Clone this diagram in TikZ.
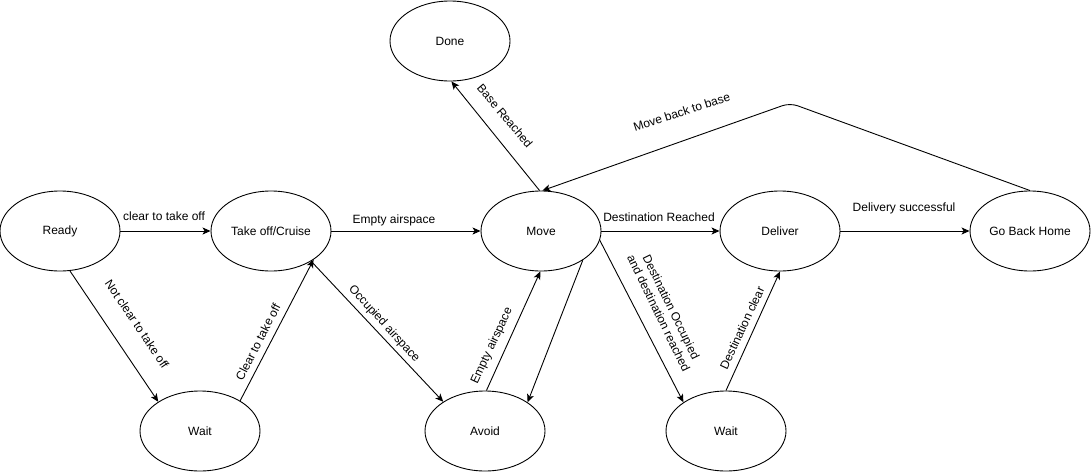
\documentclass[tikz,border=0pt]{standalone}
\usepackage{fontspec}
\setmainfont{Liberation Sans}
\usetikzlibrary{shapes.geometric,arrows.meta}
\begin{document}
\begin{tikzpicture}[x=1pt,y=-1pt,
  state/.style={ellipse,draw,line width=0.9pt,minimum width=120pt,minimum height=80pt,inner sep=0pt,font=\fontsize{12}{14}\selectfont},
  conn/.style={line width=0.9pt,-{Stealth[length=8pt,width=7pt,inset=2pt]}},
  lbl/.style={inner sep=0pt,font=\fontsize{12}{14}\selectfont},
  lblb/.style={lbl,anchor=base}
]
\useasboundingbox (0,0) rectangle (1091,471);
\node[state] (ready) at (60,231) {Ready};
\node[state] (take) at (271,231) {Take off/Cruise};
\node[state] (move) at (541,231) {Move};
\node[state] (deliver) at (780,231) {Deliver};
\node[state] (home) at (1030,231) {Go Back Home};
\node[state] (done) at (450,41) {Done};
\node[state] (waitA) at (200,431) {Wait};
\node[state] (avoid) at (485,431) {Avoid};
\node[state] (waitB) at (726,431) {Wait};
\coordinate (peak) at (790,103);

\draw[conn] (ready.east) -- (take.west);
\draw[conn] (take.east) -- (move.west);
\draw[conn] (move.east) -- (deliver.west);
\draw[conn] (deliver.east) -- (home.west);
\draw[conn] (ready.-76) -- (waitA.145);
\draw[conn] (waitA.37) -- (take.-34);
\draw[conn] (take.-37) -- (avoid.145);
\draw[conn] (avoid.88) -- (move.-91);
\draw[conn] (move.-35) -- (avoid.34);
\draw[conn] (move.-9) -- (waitB.146);
\draw[conn] (waitB.90) -- (deliver.-90);
\draw[conn] (move.92) -- (done.-88);
\draw[conn,rounded corners=8pt] (home.90) -- (peak) -- (move.88);

\node[lblb] (l1) at (164,220) {clear to take off};
\node[lblb] (l2) at (394,223) {Empty airspace};
\node[lblb] (l3) at (659,221) {Destination Reached};
\node[lblb] (l4) at (904,211) {Delivery successful};
\node[lblb,rotate=18] (l5) at (683,116) {Move back to base};
\node[lbl,rotate=-50] (l6) at (505,116) {Base Reached};
\node[lbl,rotate=-56] (l7) at (137,324) {Not clear to take off};
\node[lbl,rotate=63] (l8) at (258,342) {Clear to take off};
\node[lbl,rotate=-47.7] (l9) at (384,324) {Occupied airspace};
\node[lbl,rotate=65] (l10) at (492,346) {Empty airspace};
\node[lbl,rotate=-64,align=center] (l11) at (665,310) {Destination Occupied\\and destination reached};
\node[lbl,rotate=65] (l12) at (742,328) {Destination clear};
\end{tikzpicture}
\end{document}
